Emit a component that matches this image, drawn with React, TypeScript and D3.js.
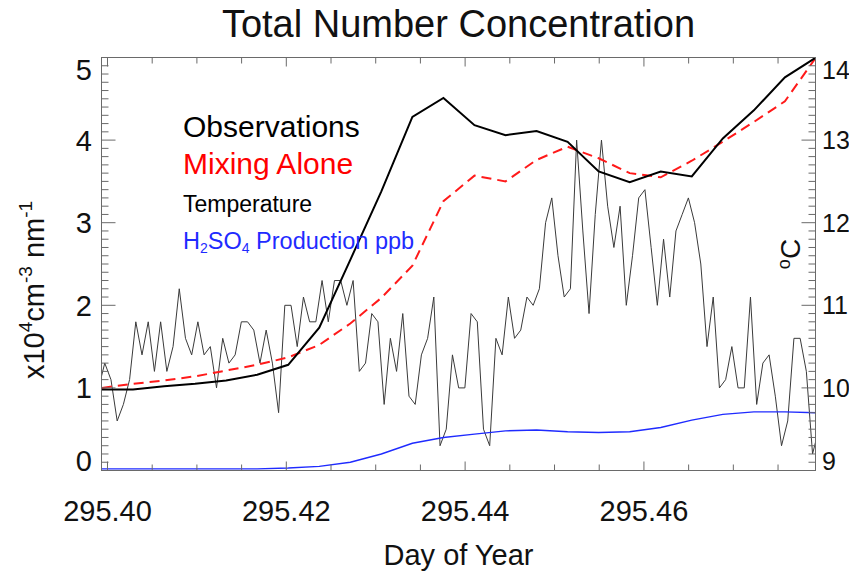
import React from 'react';
import * as d3 from 'd3';

const W = 849;
const H = 574;
const PL = 101.5, PR = 815.5, PT = 57.5, PB = 470.5;

// time axis (day of year)
const xDomain: [number, number] = [295.39933, 295.47919];
const xMajorTicks = [295.40, 295.42, 295.44, 295.46];
const xMinorTicks = [295.400, 295.405, 295.410, 295.415, 295.420, 295.425, 295.430, 295.435, 295.440, 295.445, 295.450, 295.455, 295.460, 295.465, 295.470, 295.475];
const leftTicks = [0, 1, 2, 3, 4, 5];
const rightTicks = [9, 10, 11, 12, 13, 14];

// 5-minute series (x10^4 cm^-3 nm^-1)
const obsStart = 295.39938;
const obsStepDays = 5 / 1440;
const obsValues = [0.98, 0.98, 1.02, 1.05, 1.09, 1.16, 1.28, 1.73, 2.55, 3.38, 4.28, 4.51, 4.18, 4.06, 4.11, 3.98, 3.62, 3.49, 3.62, 3.56, 4.02, 4.36, 4.76, 5.0];
const mixValues = [1.0, 1.05, 1.09, 1.14, 1.21, 1.28, 1.37, 1.52, 1.78, 2.09, 2.48, 3.26, 3.57, 3.5, 3.76, 3.92, 3.78, 3.6, 3.55, 3.75, 3.98, 4.22, 4.47, 5.0];
const h2so4Values = [0.02, 0.02, 0.02, 0.02, 0.02, 0.02, 0.03, 0.05, 0.1, 0.2, 0.33, 0.4, 0.44, 0.48, 0.49, 0.47, 0.46, 0.47, 0.52, 0.61, 0.68, 0.71, 0.71, 0.7];

// 1-minute temperature (deg C)
const tempStart = 295.3990;
const tempStepDays = 1 / 1440;
const tempValues = [
  10.0, 10.3, 10.1, 9.6, 9.8, 10.1, 10.8, 10.4, 10.8, 10.2,
  10.8, 10.2, 10.5, 11.2, 10.6, 10.4, 10.8, 10.4, 10.5, 10.0,
  10.6, 10.3, 10.4, 10.8, 10.8, 10.7, 10.3, 10.7, 10.3, 9.7,
  11.0, 11.0, 10.5, 11.1, 10.8, 10.8, 11.3, 10.8, 11.3, 11.3,
  11.0, 11.3, 10.2, 10.3, 10.9, 10.8, 9.8, 10.6, 10.2, 10.9,
  9.9, 9.8, 10.4, 10.6, 11.1, 9.3, 9.5, 10.4, 10.0, 10.0,
  10.9, 10.8, 9.5, 9.3, 10.6, 10.4, 11.1, 10.6, 10.7, 11.1,
  11.0, 11.2, 12.0, 12.3, 11.6, 11.1, 11.2, 13.0, 11.9, 10.9,
  12.1, 13.0, 12.2, 11.7, 12.2, 11.0, 11.6, 12.3, 12.4, 11.7,
  11.0, 11.8, 11.1, 11.9, 12.1, 12.3, 12.0, 11.5, 10.5, 11.1,
  10.0, 10.1, 10.5, 10.0, 10.0, 11.1, 9.8, 10.3, 10.4, 9.9,
  9.3, 9.6, 10.6, 10.6, 10.2, 9.2, 9.5,
];

const legendItems = [
  { label: 'Observations', color: '#000000', size: 30 },
  { label: 'Mixing Alone', color: '#ff0000', size: 30 },
  { label: 'Temperature', color: '#000000', size: 23 },
];

const FONT = "'Liberation Sans', Arial, Helvetica, sans-serif";
const AXIS = '#6a6a6a';

export default function App() {
  const x = d3.scaleLinear().domain(xDomain).range([PL, PR]);
  const yL = d3.scaleLinear().domain([0, 5]).range([PB, PT]);
  const yR = d3.scaleLinear().domain([9, 14]).range([PB, PT]);

  const obsPts = obsValues.map((v, i) => [obsStart + i * obsStepDays, v] as [number, number]);
  const mixPts = mixValues.map((v, i) => [obsStart + i * obsStepDays, v] as [number, number]);
  const h2Pts = h2so4Values.map((v, i) => [obsStart + i * obsStepDays, v] as [number, number]);
  const tPts = tempValues.map((v, i) => [tempStart + i * tempStepDays, v] as [number, number]);

  const lineL = d3.line<[number, number]>().x(d => x(d[0])).y(d => yL(d[1]));
  const lineR = d3.line<[number, number]>().x(d => x(d[0])).y(d => yR(d[1]));

  const minorY = d3.range(0, 51).map(i => i / 10);
  const majorSet = new Set(xMajorTicks.map(t => t.toFixed(3)));

  const clampLabel = (y: number) => Math.max(70, Math.min(461, y));

  return (
    <svg width={W} height={H} style={{ position: 'absolute', left: 0, top: 0, background: '#fff' }} fontFamily={FONT}>
      <rect x={0} y={0} width={W} height={H} fill="#fff" />
      <defs>
        <clipPath id="plotclip">
          <rect x={PL} y={PT} width={PR - PL} height={PB - PT} />
        </clipPath>
      </defs>

      {/* title */}
      <text x={(PL + PR) / 2} y={37} textAnchor="middle" fontSize={38} fill="#111">Total Number Concentration</text>

      {/* data */}
      <g clipPath="url(#plotclip)" fill="none">
        <path d={lineR(tPts) || ''} stroke="#3a3a3a" strokeWidth={1} />
        <path d={lineL(h2Pts) || ''} stroke="#1f2bff" strokeWidth={1.4} />
        <path d={lineL(mixPts) || ''} stroke="#ff1a1a" strokeWidth={2} strokeDasharray="10,6" />
        <path d={lineL(obsPts) || ''} stroke="#000" strokeWidth={2} />
      </g>

      {/* frame */}
      <rect x={PL} y={PT} width={PR - PL} height={PB - PT} fill="none" stroke={AXIS} strokeWidth={1} />

      {/* x ticks */}
      {xMinorTicks.map(t => {
        const major = majorSet.has(t.toFixed(3));
        const len = major ? 9 : 6;
        const xx = x(t);
        return (
          <g key={'xt' + t} stroke={AXIS} strokeWidth={1}>
            <line x1={xx} x2={xx} y1={PB} y2={PB - len} />
            <line x1={xx} x2={xx} y1={PT} y2={PT + len} />
          </g>
        );
      })}
      {xMajorTicks.map(t => (
        <text key={'xl' + t} x={x(t)} y={521} textAnchor="middle" fontSize={29} fill="#111">{d3.format('.2f')(t)}</text>
      ))}
      <text x={(PL + PR) / 2} y={565} textAnchor="middle" fontSize={29} fill="#111">Day of Year</text>

      {/* left / right y ticks */}
      {minorY.map(v => {
        const major = Math.abs(v - Math.round(v)) < 1e-6;
        const len = major ? 14 : 7;
        const yy = yL(v);
        return (
          <g key={'yt' + v} stroke={AXIS} strokeWidth={1}>
            <line x1={PL} x2={PL + len} y1={yy} y2={yy} />
            <line x1={PR} x2={PR - len} y1={yy} y2={yy} />
          </g>
        );
      })}
      {leftTicks.map(v => (
        <text key={'yl' + v} x={92} y={clampLabel(yL(v))} dy="0.36em" textAnchor="end" fontSize={29} fill="#111">{v}</text>
      ))}
      {rightTicks.map(v => (
        <text key={'yr' + v} x={822} y={clampLabel(yR(v))} dy="0.36em" textAnchor="start" fontSize={25} fill="#111">{v}</text>
      ))}

      {/* y titles */}
      <text transform="translate(44,290) rotate(-90)" textAnchor="middle" fontSize={29} fill="#111">
        x10<tspan fontSize={19} dy={-12}>4</tspan><tspan dy={12}>cm</tspan><tspan fontSize={19} dy={-12}>-3</tspan><tspan dy={12}> nm</tspan><tspan fontSize={19} dy={-12}>-1</tspan>
      </text>
      <text transform="translate(800,254) rotate(-90)" textAnchor="middle" fontSize={28} fill="#111">
        <tspan fontSize={18} dy={-10}>o</tspan><tspan dy={10}>C</tspan>
      </text>

      {/* legend */}
      <text x={183} y={137} fontSize={legendItems[0].size} fill={legendItems[0].color}>{legendItems[0].label}</text>
      <text x={183} y={174} fontSize={legendItems[1].size} fill={legendItems[1].color}>{legendItems[1].label}</text>
      <text x={183} y={211.5} fontSize={legendItems[2].size} fill={legendItems[2].color}>{legendItems[2].label}</text>
      <text x={183} y={248.5} fontSize={23.5} fill="#1f2bff">
        H<tspan fontSize={14} dy={4}>2</tspan><tspan dy={-4}>SO</tspan><tspan fontSize={14} dy={4}>4</tspan><tspan dy={-4}> Production ppb</tspan>
      </text>
    </svg>
  );
}
